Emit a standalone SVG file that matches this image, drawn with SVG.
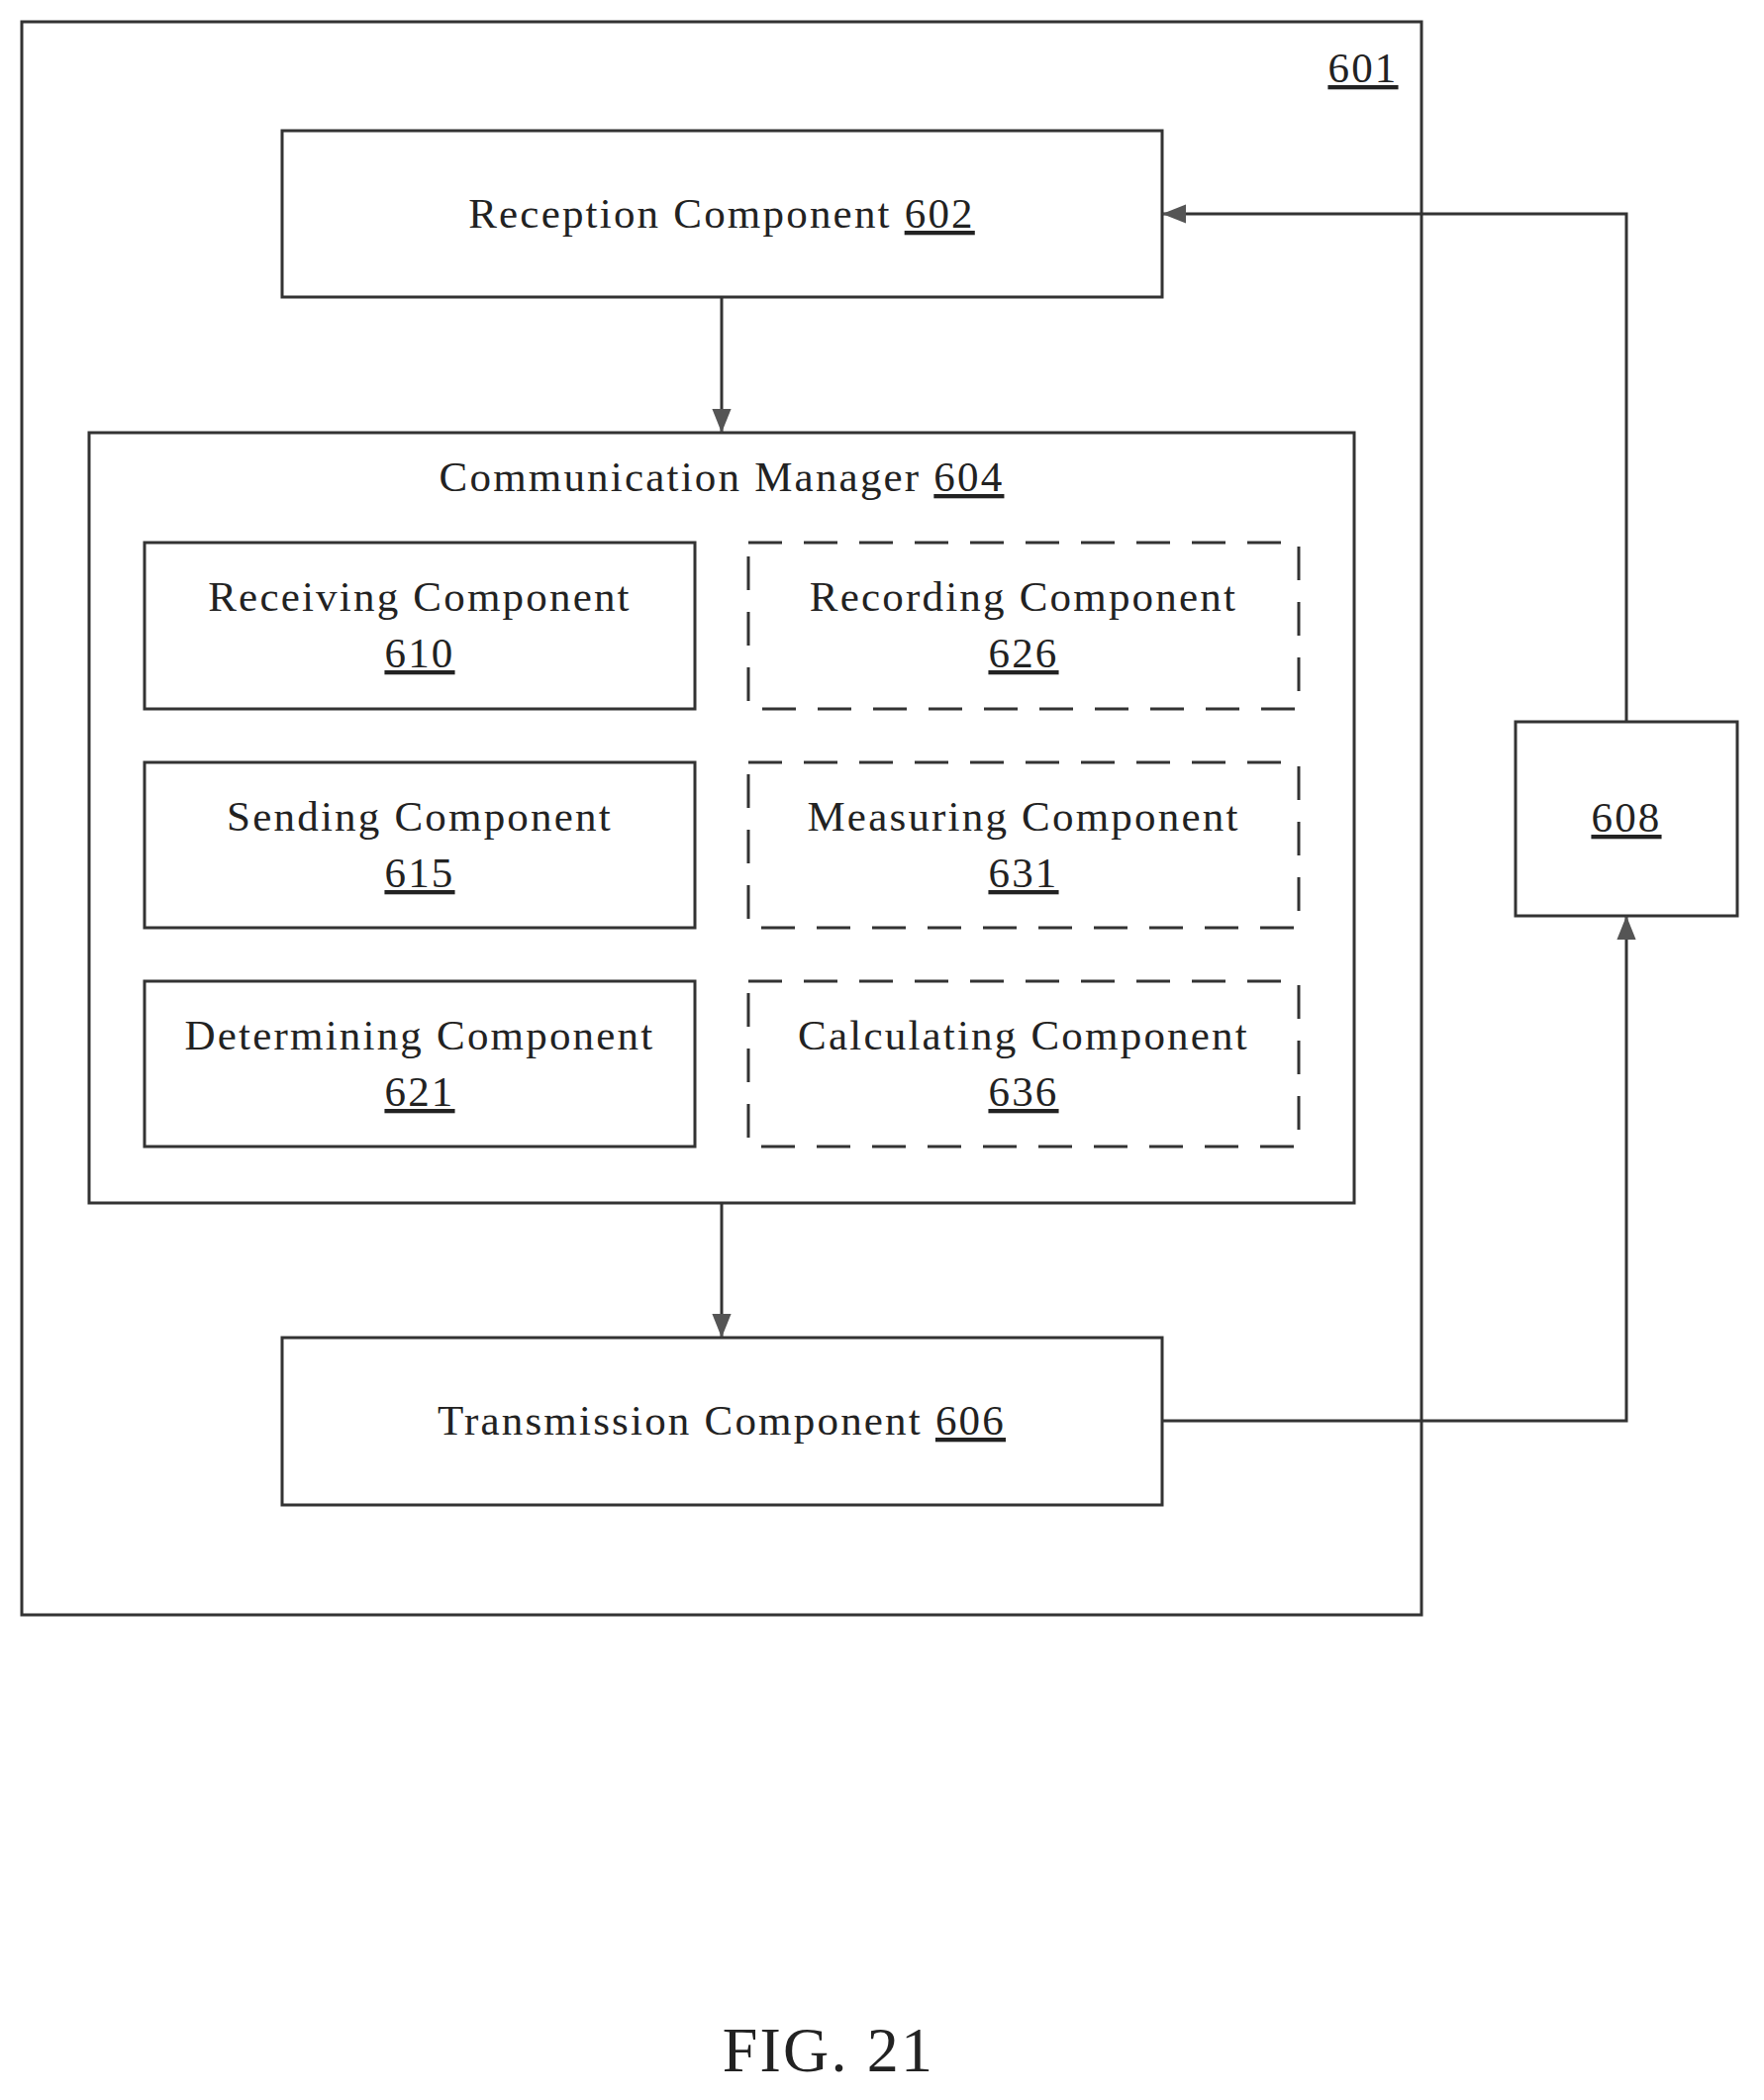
<svg xmlns="http://www.w3.org/2000/svg" width="1782" height="2121" viewBox="0 0 1782 2121">
<style>
.b{fill:none;stroke:#333;stroke-width:3}
.d{fill:none;stroke:#333;stroke-width:3;stroke-dasharray:34,22}
text{font-family:"Liberation Serif",serif;font-size:43px;letter-spacing:2.2px;fill:#222;text-anchor:middle}
.u{text-decoration:underline}
.c{fill:none;stroke:#333;stroke-width:3}
</style>
<defs>
<marker id="m" viewBox="0 0 10 10" refX="10" refY="5" markerWidth="24" markerHeight="24" orient="auto" markerUnits="userSpaceOnUse"><path d="M0,1L10,5L0,9z" fill="#555"/></marker></defs>
<g id="n601"><rect class="b" x="22" y="22" width="1414" height="1609"/><text x="1377" y="83" class="u">601</text></g>
<g id="n602"><rect class="b" x="285" y="132" width="889" height="168"/><text x="729" y="230">Reception Component <tspan class="u">602</tspan></text></g>
<g id="n604"><rect class="b" x="90" y="437" width="1278" height="778"/><text x="729" y="496">Communication Manager <tspan class="u">604</tspan></text></g>
<g id="n610"><rect class="b" x="146" y="548" width="556" height="168"/><text x="424" y="617">Receiving Component</text><text x="424" y="674" class="u">610</text></g>
<g id="n615"><rect class="b" x="146" y="770" width="556" height="167"/><text x="424" y="839">Sending Component</text><text x="424" y="896" class="u">615</text></g>
<g id="n621"><rect class="b" x="146" y="991" width="556" height="167"/><text x="424" y="1060">Determining Component</text><text x="424" y="1117" class="u">621</text></g>
<g id="n626"><rect class="d" x="756" y="548" width="556" height="168"/><text x="1034" y="617">Recording Component</text><text x="1034" y="674" class="u">626</text></g>
<g id="n631"><rect class="d" x="756" y="770" width="556" height="167"/><text x="1034" y="839">Measuring Component</text><text x="1034" y="896" class="u">631</text></g>
<g id="n636"><rect class="d" x="756" y="991" width="556" height="167"/><text x="1034" y="1060">Calculating Component</text><text x="1034" y="1117" class="u">636</text></g>
<g id="n606"><rect class="b" x="285" y="1351" width="889" height="169"/><text x="729" y="1449">Transmission Component <tspan class="u">606</tspan></text></g>
<g id="n608"><rect class="b" x="1531" y="729" width="224" height="196"/><text x="1643" y="840" class="u">608</text></g>
<g id="connectors">
<path class="c" d="M729,300V437" marker-end="url(#m)"/>
<path class="c" d="M729,1215V1351" marker-end="url(#m)"/>
<path class="c" d="M1174,1435H1643V925" marker-end="url(#m)"/>
<path class="c" d="M1643,729V216H1174" marker-end="url(#m)"/>
</g>
<text x="837" y="2092" style="font-size:64px">FIG. 21</text>
</svg>
